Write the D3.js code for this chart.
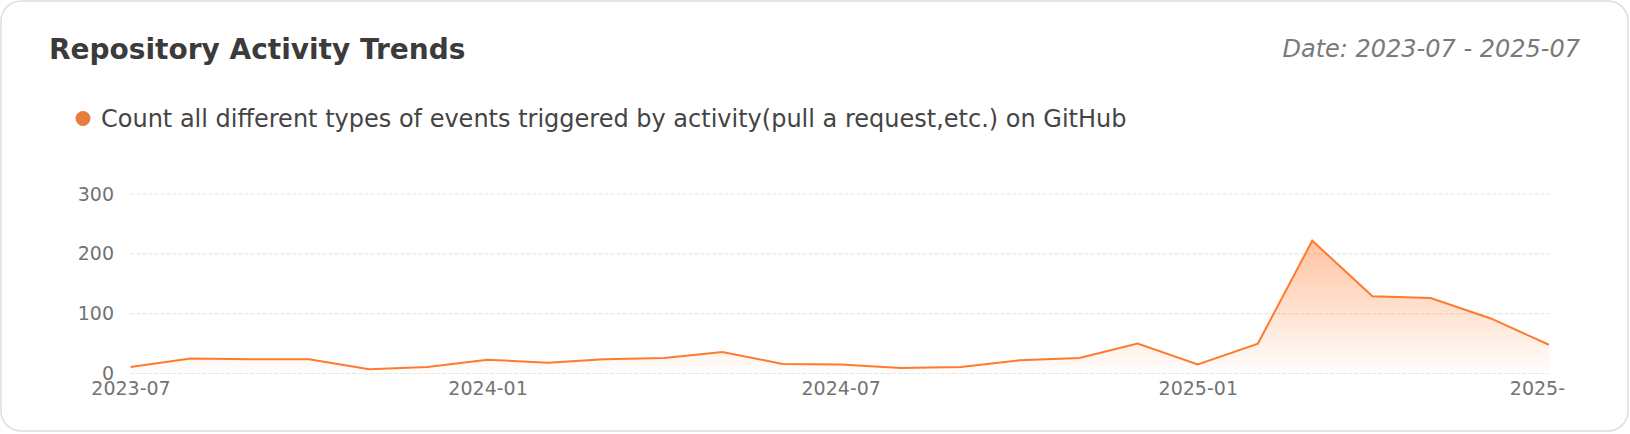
<!DOCTYPE html>
<html>
<head>
<meta charset="utf-8">
<script src="https://cdn.jsdelivr.net/npm/d3@7"></script>
<style>
  body { margin: 0; background: #fff; font-family: "DejaVu Sans", sans-serif; }
  .axis path, .axis line { display: none; }
  .axis text { fill: #737373; font-size: 19px; font-family: "DejaVu Sans", sans-serif; }
</style>
</head>
<body>
<div id="chart"></div>
<script>
// Datos: eventos mensuales del repositorio
const months = [
  "2023-07", "2023-08", "2023-09", "2023-10", "2023-11", "2023-12",
  "2024-01", "2024-02", "2024-03", "2024-04", "2024-05", "2024-06",
  "2024-07", "2024-08", "2024-09", "2024-10", "2024-11", "2024-12",
  "2025-01", "2025-02", "2025-03", "2025-04", "2025-05", "2025-06",
  "2025-07"
];
const events = [
  11, 25, 24, 24, 7, 11,
  23, 18, 24, 26, 36, 16,
  15, 9, 11, 22, 26, 50,
  15, 50, 222, 129, 126, 92,
  48
];
const yTicks = [0, 100, 200, 300];
const titleText = "Repository Activity Trends";
const dateText = "Date: 2023-07 - 2025-07";
const legendText = "Count all different types of events triggered by activity(pull a request,etc.) on GitHub";

const W = 1630, H = 434;
const margin = { left: 130.5, right: 1549, top: 194, bottom: 373.5 };

const parse = d3.timeParse("%Y-%m");
const data = months.map((m, i) => ({ date: parse(m), value: events[i] }));

const svg = d3.select("#chart").append("svg")
  .attr("width", W)
  .attr("height", H);

// Tarjeta de fondo
svg.append("rect")
  .attr("x", 1).attr("y", 1)
  .attr("width", W - 3).attr("height", 430)
  .attr("rx", 20)
  .attr("fill", "#fff")
  .attr("stroke", "#dedede")
  .attr("stroke-width", 1.5);

svg.append("text")
  .attr("x", 49).attr("y", 58.5)
  .attr("font-size", 28).attr("font-weight", "bold")
  .attr("fill", "#3b3b3b")
  .text(titleText);

svg.append("text")
  .attr("x", 1580).attr("y", 57)
  .attr("text-anchor", "end")
  .attr("font-size", 24).attr("font-style", "italic")
  .attr("fill", "#7a7a7a")
  .text(dateText);

// Leyenda
svg.append("circle")
  .attr("cx", 83).attr("cy", 118.5).attr("r", 7.5)
  .attr("fill", "#e67e3e");
svg.append("text")
  .attr("x", 101).attr("y", 127)
  .attr("font-size", 24)
  .attr("fill", "#444")
  .text(legendText);

// Escalas
const x = d3.scaleTime()
  .domain(d3.extent(data, d => d.date))
  .range([margin.left, margin.right]);
const y = d3.scaleLinear()
  .domain([0, 300])
  .range([margin.bottom, margin.top]);

// Recorte a la derecha (la etiqueta final queda cortada)
svg.append("clipPath").attr("id", "clip")
  .append("rect").attr("x", 0).attr("y", 0).attr("width", 1565).attr("height", H);

const plot = svg.append("g").attr("clip-path", "url(#clip)");

// Lineas de la rejilla
plot.append("g")
  .selectAll("line")
  .data(yTicks)
  .enter()
  .append("line")
  .attr("x1", margin.left).attr("x2", margin.right)
  .attr("y1", d => y(d)).attr("y2", d => y(d))
  .attr("stroke", "#e6e6e6")
  .attr("stroke-width", 1.2)
  .attr("stroke-dasharray", "4,2");

// Degradado del area
const grad = svg.append("defs").append("linearGradient")
  .attr("id", "areaGrad")
  .attr("x1", 0).attr("y1", 0).attr("x2", 0).attr("y2", 1);
grad.append("stop").attr("offset", "0%").attr("stop-color", "#ff7a2d").attr("stop-opacity", 0.45);
grad.append("stop").attr("offset", "100%").attr("stop-color", "#ff7a2d").attr("stop-opacity", 0.01);

const area = d3.area()
  .x(d => x(d.date))
  .y0(y(0))
  .y1(d => y(d.value));
const line = d3.line()
  .x(d => x(d.date))
  .y(d => y(d.value));

plot.append("path")
  .datum(data)
  .attr("d", area)
  .attr("fill", "url(#areaGrad)");

plot.append("path")
  .datum(data)
  .attr("d", line)
  .attr("fill", "none")
  .attr("stroke", "#ff7a2d")
  .attr("stroke-width", 2);

// Ejes
plot.append("g")
  .attr("class", "axis")
  .attr("transform", "translate(0," + margin.bottom + ")")
  .call(d3.axisBottom(x)
    .ticks(d3.timeMonth.every(6))
    .tickFormat(d3.timeFormat("%Y-%m"))
    .tickSize(0)
    .tickPadding(8));

svg.append("g")
  .attr("class", "axis")
  .attr("transform", "translate(" + margin.left + ",0)")
  .call(d3.axisLeft(y)
    .tickValues(yTicks)
    .tickSize(0)
    .tickPadding(16.5));
</script>
</body>
</html>
